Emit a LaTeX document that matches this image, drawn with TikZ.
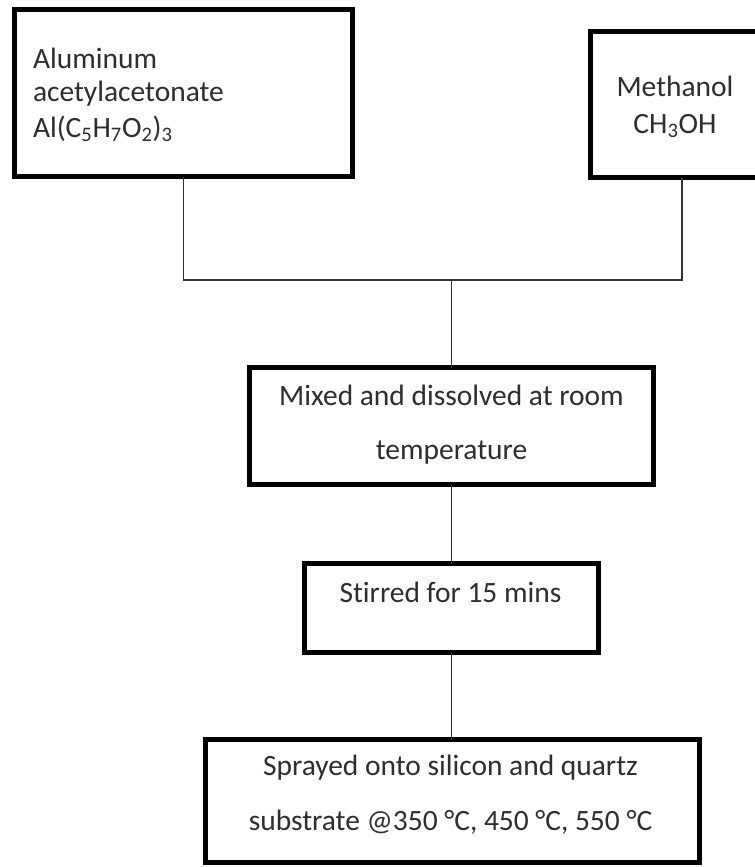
\documentclass[tikz,border=0pt]{standalone}
\usepackage{fontspec}
\setmainfont{Carlito}[Ligatures={NoCommon}]
\begin{document}
\begin{tikzpicture}[x=0.75pt,y=-0.75pt,
  box/.style={draw=black, line width=3.8pt, inner sep=0pt, outer sep=0pt, rectangle},
  lbl/.style={inner sep=0pt, outer sep=0pt, text=black!82, font=\fontsize{22.1pt}{26pt}\selectfont},
  conn/.style={draw=black!80, line width=1.2pt}]
\useasboundingbox (0,0) rectangle (755,867);
\clip (0,0) rectangle (755,867);
\fill[white] (0,0) rectangle (755,867);
% boxes
\node[box, minimum width=338*0.75pt, minimum height=167*0.75pt] (b1) at (183.5,93) {};
\node[box, minimum width=183*0.75pt, minimum height=146*0.75pt] (b2) at (682,104.5) {};
\node[box, minimum width=404*0.75pt, minimum height=117*0.75pt] (b3) at (451.5,426) {};
\node[box, minimum width=294*0.75pt, minimum height=89*0.75pt] (b4) at (451.5,608) {};
\node[box, minimum width=494*0.75pt, minimum height=123*0.75pt] (b5) at (452.5,801) {};
% texts
\node[lbl, anchor=base west] (t1a) at (33,69) {Aluminum};
\node[lbl, anchor=base west] (t1b) at (33,102) {acetylacetonate};
\node[lbl, anchor=base west] (t1c) at (33,137.5) {Al(C\textsubscript{5}H\textsubscript{7}O\textsubscript{2})\textsubscript{3}};
\node[lbl, anchor=base] (t2a) at (675,97) {Methanol};
\node[lbl, anchor=base] (t2b) at (675,133) {CH\textsubscript{3}OH};
\node[lbl, anchor=base] (t3a) at (451.5,405) {Mixed and dissolved at room};
\node[lbl, anchor=base] (t3b) at (451.5,459) {temperature};
\node[lbl, anchor=base] (t4) at (450.5,602) {Stirred for 15 mins};
\node[lbl, anchor=base] (t5a) at (450.5,775) {Sprayed onto silicon and quartz};
\node[lbl, anchor=base] (t5b) at (450.5,830) {substrate @350 °C, 450 °C, 550 °C};
% connectors
\coordinate (j) at (451.5,280);
\draw[conn] (b1.south) -- (b1.south |- j) -- (b2.south |- j) -- (b2.south);
\draw[conn] (j) -- (b3.north);
\draw[conn] (b3.south) -- (b4.north);
\draw[conn] (b4.south) -- (b4.south |- b5.north);
\end{tikzpicture}
\end{document}
